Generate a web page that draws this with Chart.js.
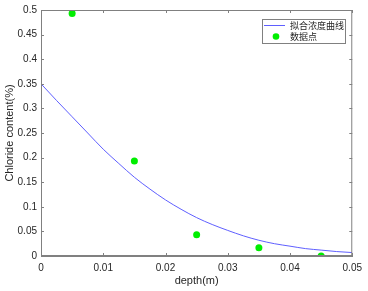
<!DOCTYPE html>
<html>
<head>
<meta charset="utf-8">
<script src="https://cdn.jsdelivr.net/npm/chart.js@4.4.0/dist/chart.umd.min.js"></script>
<style>
  html, body { margin: 0; padding: 0; background: #fff; }
  #wrap { width: 368px; height: 291px; }
</style>
</head>
<body>
<div id="wrap"><canvas id="c" width="368" height="291"></canvas></div>
<script>
// fitted curve
const curveX = [0, 0.0025, 0.005, 0.0075, 0.01, 0.0125, 0.015, 0.0175, 0.02, 0.0225, 0.025,
                0.0275, 0.03, 0.0325, 0.035, 0.0375, 0.04, 0.0425, 0.045, 0.0475, 0.05];
const curveY = [0.350, 0.316, 0.283, 0.250, 0.217, 0.188, 0.160, 0.136, 0.114, 0.095, 0.078,
                0.064, 0.052, 0.041, 0.032, 0.025, 0.020, 0.015, 0.012, 0.009, 0.007];

// measured points
const depthX = [0.005, 0.015, 0.025, 0.035, 0.045];
const chlorideY = [0.493, 0.193, 0.043, 0.017, 0.0];

const xTicks = [0, 0.01, 0.02, 0.03, 0.04, 0.05];
const xTickLabels = ['0', '0.01', '0.02', '0.03', '0.04', '0.05'];
const yTicks = [0, 0.05, 0.1, 0.15, 0.2, 0.25, 0.3, 0.35, 0.4, 0.45, 0.5];
const yTickLabels = ['0', '0.05', '0.1', '0.15', '0.2', '0.25', '0.3', '0.35', '0.4', '0.45', '0.5'];

const seriesNames = ['拟合浓度曲线', '数据点'];

const AXIS_COLOR = '#808080';
const TEXT_COLOR = '#262626';
const LINE_COLOR = 'rgb(95,95,255)';
const DOT_COLOR = '#00ee00';

// box around plot + inward ticks on all four sides, matlab style
const boxPlugin = {
    id: 'box',
    afterDraw(chart) {
        const { ctx, chartArea: a, scales } = chart;
        ctx.save();
        ctx.strokeStyle = AXIS_COLOR;
        ctx.lineWidth = 1;
        ctx.strokeRect(a.left + 0.5, a.top + 0.5, a.right - a.left - 1, a.bottom - a.top - 1);
        ctx.beginPath();
        xTicks.forEach(v => {
            const px = Math.round(scales.x.getPixelForValue(v)) + 0.5;
            ctx.moveTo(px, a.bottom); ctx.lineTo(px, a.bottom - 3);
            ctx.moveTo(px, a.top); ctx.lineTo(px, a.top + 3);
        });
        yTicks.forEach(v => {
            const py = Math.round(scales.y.getPixelForValue(v)) + 0.5;
            ctx.moveTo(a.left, py); ctx.lineTo(a.left + 3, py);
            ctx.moveTo(a.right, py); ctx.lineTo(a.right - 3, py);
        });
        ctx.stroke();

        // legend
        const lx = 262, ly = 19, lw = 83, lh = 24;
        ctx.fillStyle = '#fff';
        ctx.fillRect(lx, ly, lw, lh);
        ctx.strokeRect(lx + 0.5, ly + 0.5, lw, lh);
        ctx.strokeStyle = LINE_COLOR;
        ctx.beginPath();
        ctx.moveTo(264, 25.5); ctx.lineTo(285, 25.5);
        ctx.stroke();
        ctx.fillStyle = DOT_COLOR;
        ctx.beginPath();
        ctx.arc(276, 36.5, 3.3, 0, Math.PI * 2);
        ctx.fill();
        ctx.fillStyle = TEXT_COLOR;
        ctx.font = '9px "Noto Sans CJK SC"';
        ctx.textBaseline = 'middle';
        ctx.fillText(seriesNames[0], 290, 25.5);
        ctx.fillText(seriesNames[1], 290, 36.5);
        ctx.restore();
    }
};

new Chart(document.getElementById('c'), {
    type: 'scatter',
    data: {
        datasets: [
            {
                label: seriesNames[0],
                data: curveX.map((x, i) => ({ x: x, y: curveY[i] })),
                showLine: true,
                borderColor: LINE_COLOR,
                borderWidth: 1,
                pointRadius: 0,
                cubicInterpolationMode: 'monotone'
            },
            {
                label: seriesNames[1],
                data: depthX.map((x, i) => ({ x: x, y: chlorideY[i] })),
                backgroundColor: DOT_COLOR,
                borderWidth: 0,
                pointRadius: 3.5
            }
        ]
    },
    options: {
        responsive: false,
        animation: false,
        layout: { padding: { left: 0, top: 10, right: 14, bottom: 0 } },
        plugins: { legend: { display: false }, tooltip: { enabled: false } },
        scales: {
            x: {
                type: 'linear', min: 0, max: 0.05,
                afterBuildTicks: s => { s.ticks = xTicks.map(v => ({ value: v })); },
                afterFit: s => { s.height = 35; },
                grid: { drawOnChartArea: false, drawTicks: false },
                border: { color: AXIS_COLOR },
                ticks: {
                    padding: 6, color: TEXT_COLOR, maxRotation: 0,
                    font: { family: 'Liberation Sans', size: 10 },
                    callback: (v, i) => xTickLabels[i]
                },
                title: {
                    display: true, text: 'depth(m)', color: TEXT_COLOR,
                    font: { family: 'Liberation Sans', size: 11 },
                    padding: { top: 0, bottom: 3 }
                }
            },
            y: {
                type: 'linear', min: 0, max: 0.5,
                afterBuildTicks: s => { s.ticks = yTicks.map(v => ({ value: v })); },
                afterFit: s => { s.width = 41; },
                grid: { drawOnChartArea: false, drawTicks: false },
                border: { color: AXIS_COLOR },
                ticks: {
                    padding: 4, color: TEXT_COLOR,
                    font: { family: 'Liberation Sans', size: 10 },
                    callback: (v, i) => yTickLabels[i]
                },
                title: {
                    display: true, text: 'Chloride content(%)', color: TEXT_COLOR,
                    font: { family: 'Liberation Sans', size: 11 },
                    padding: { top: 3, bottom: 0 }
                }
            }
        }
    },
    plugins: [boxPlugin]
});
</script>
</body>
</html>
